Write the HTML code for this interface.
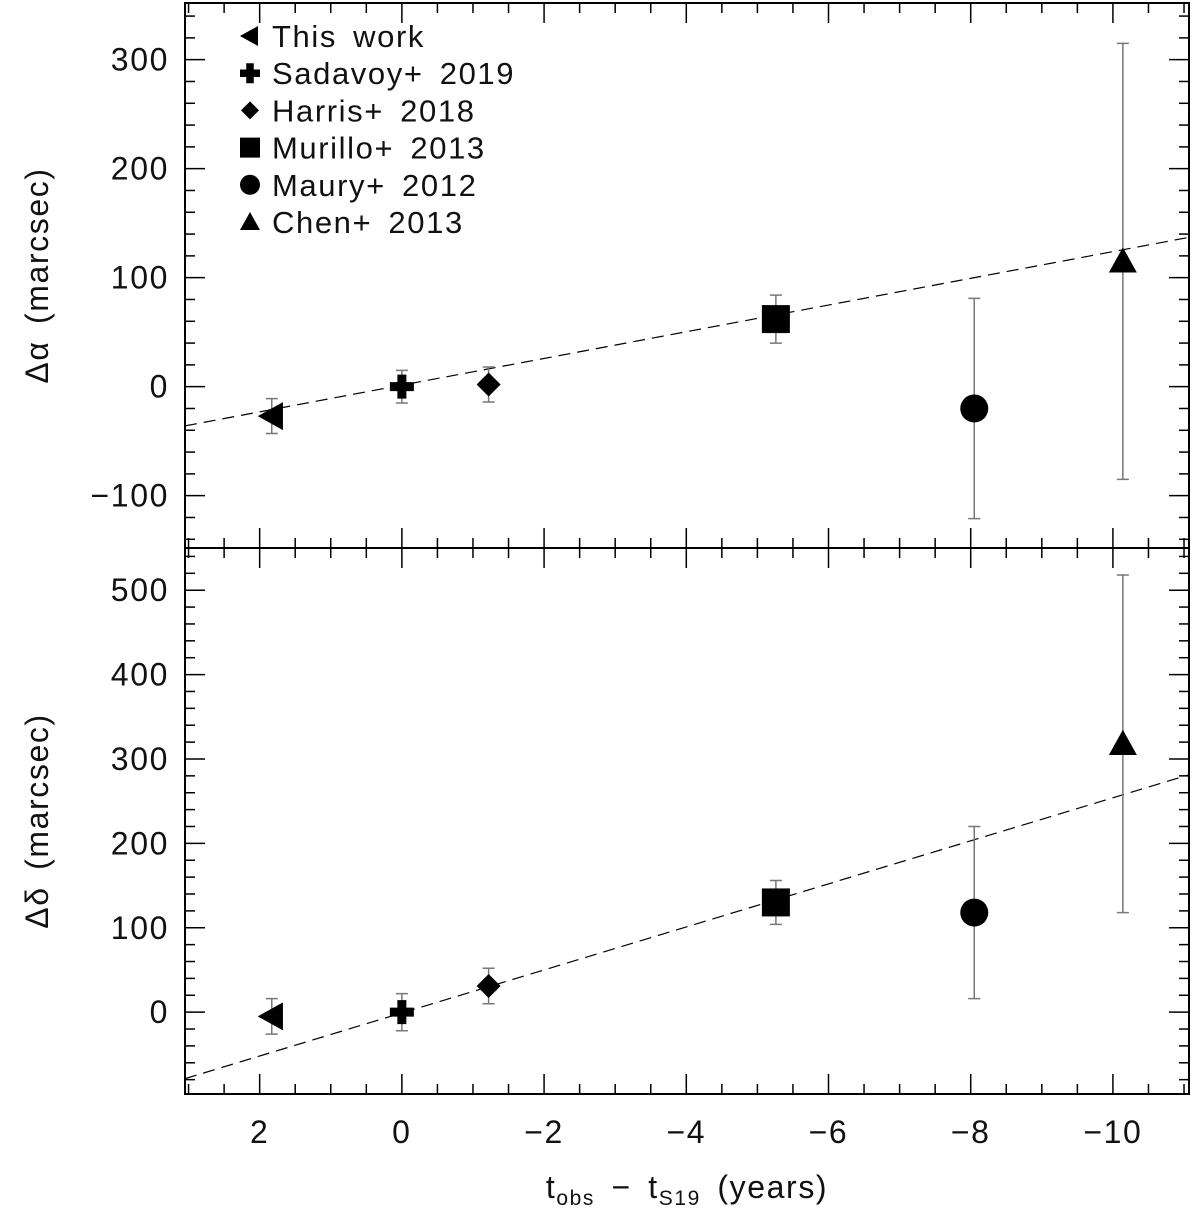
<!DOCTYPE html>
<html><head><meta charset="utf-8"><style>
body{margin:0;background:#fff}
svg{display:block;font-family:"Liberation Sans","DejaVu Sans",sans-serif}
text{letter-spacing:1.6px;word-spacing:6px}
</style></head><body>
<svg id="c" width="1200" height="1213" viewBox="0 0 1200 1213">
<g id="g"></g>
</svg>
<script>
const years=[1.83,0,-1.22,-5.26,-8.05,-10.14];
const names=["This work","Sadavoy+ 2019","Harris+ 2018","Murillo+ 2013","Maury+ 2012","Chen+ 2013"];
const markers=["tri-left","plus","diamond","square","circle","tri-up"];
const dAlpha=[-27,0,2,62,-20,115];
const dAlphaErr=[16,15,16,22,101,200];
const dDelta=[-5,0,31,130,118,318];
const dDeltaErr=[21,22,21,26,102,200];
const fitAlpha=[1.4,-12.25];   // intercept, slope
const fitDelta=[-1,-25.5];
const xTicks=[2,0,-2,-4,-6,-8,-10];
const yTicksA=[-100,0,100,200,300];
const yTicksD=[0,100,200,300,400,500];

const NS="http://www.w3.org/2000/svg";
const g=document.getElementById('g');
const L=185,R=1189;
const X0=3.05,X1=-11.07;
const sx=t=>L+(t-X0)/(X1-X0)*(R-L);
const panels=[
 {top:3,bot:548,ymin:-148,ymax:352,ticks:yTicksA,vals:dAlpha,err:dAlphaErr,fit:fitAlpha,name:"alpha"},
 {top:548,bot:1094,ymin:-97,ymax:550,ticks:yTicksD,vals:dDelta,err:dDeltaErr,fit:fitDelta,name:"delta"}
];
function el(tag,attrs,parent){const e=document.createElementNS(NS,tag);for(const k in attrs)e.setAttribute(k,attrs[k]);(parent||g).appendChild(e);return e;}
function marker(type,x,y,s,parent){
 let e;
 if(type==="tri-left")e=el('polygon',{points:`${x-s},${y} ${x+s*0.8},${y-s} ${x+s*0.8},${y+s}`,fill:'#000'},parent);
 else if(type==="plus")e=el('path',{d:`M${x-s},${y}H${x+s}M${x},${y-s}V${y+s}`,stroke:'#000','stroke-width':s*0.75,fill:'none'},parent);
 else if(type==="diamond")e=el('polygon',{points:`${x},${y-s} ${x+s},${y} ${x},${y+s} ${x-s},${y}`,fill:'#000'},parent);
 else if(type==="square")e=el('rect',{x:x-s,y:y-s,width:2*s,height:2*s,fill:'#000'},parent);
 else if(type==="circle")e=el('circle',{cx:x,cy:y,r:s,fill:'#000'},parent);
 else e=el('polygon',{points:`${x},${y-s} ${x+s},${y+s*0.8} ${x-s},${y+s*0.8}`,fill:'#000'},parent);
 return e;
}
panels.forEach((p,pi)=>{
 const sy=v=>p.bot-(v-p.ymin)/(p.ymax-p.ymin)*(p.bot-p.top);
 const pg=el('g',{});
 
 
 const cp=el('clipPath',{id:'cp'+pi},pg);
 el('rect',{x:L,y:p.top,width:R-L,height:p.bot-p.top},cp);
 for(let v=Math.ceil(p.ymin/20)*20;v<=p.ymax;v+=20){
  const major=v%100===0, len=major?20:10, y=sy(v);
  el('line',{x1:L,y1:y,x2:L+len,y2:y,stroke:'#000','stroke-width':1.5},pg);
  el('line',{x1:R,y1:y,x2:R-len,y2:y,stroke:'#000','stroke-width':1.5},pg);
 }
 p.ticks.forEach(v=>{
  const t=el('text',{x:L-16,y:sy(v)+11,'text-anchor':'end','font-size':32,fill:'#111'},pg);
  t.textContent=v<0?'\u2212'+Math.abs(v):String(v);
  
  
 });
 for(let k=Math.ceil(X1*2);k<=Math.floor(X0*2);k++){
  const t=k/2,major=k%4===0,len=major?20:10,x=sx(t);
  el('line',{x1:x,y1:p.bot,x2:x,y2:p.bot-len,stroke:'#000','stroke-width':1.5},pg);
  el('line',{x1:x,y1:p.top,x2:x,y2:p.top+len,stroke:'#000','stroke-width':1.5},pg);
 }
 const fl=el('line',{x1:sx(X0),y1:sy(p.fit[0]+p.fit[1]*X0),x2:sx(X1),y2:sy(p.fit[0]+p.fit[1]*X1),stroke:'#000','stroke-width':1.2,'stroke-dasharray':'12,7','clip-path':`url(#cp${pi})`},pg);
 
 
 years.forEach((t,i)=>{
  const x=sx(t),y=sy(p.vals[i]),y1=sy(p.vals[i]-p.err[i]),y2=sy(p.vals[i]+p.err[i]);
  const eb=el('path',{d:`M${x},${y1}V${y2}M${x-6},${y1}H${x+6}M${x-6},${y2}H${x+6}`,stroke:'#777','stroke-width':1.5,fill:'none'},pg);
  
  
  const s=(markers[i]==="diamond")?12:(markers[i]==="plus"?12:14);
  const m=marker(markers[i],x,y,s,pg);
  
  
 });
 el('rect',{x:L,y:p.top,width:R-L,height:p.bot-p.top,fill:'none',stroke:'#000','stroke-width':2},pg);
 const yt=el('text',{transform:`translate(48,${(p.top+p.bot)/2}) rotate(-90)`,'text-anchor':'middle','font-size':32,fill:'#111'},pg);
 yt.textContent=(pi===0?'\u0394\u03b1':'\u0394\u03b4')+'  (marcsec)';
 
 
});
xTicks.forEach(t=>{
 const e=el('text',{x:sx(t),y:1143,'text-anchor':'middle','font-size':32,fill:'#111'});
 e.textContent=t<0?'\u2212'+Math.abs(t):String(t);
 
 
});
const xt=el('text',{x:687,y:1198,'text-anchor':'middle','font-size':32,fill:'#111'});
xt.innerHTML='t<tspan font-size="21" dy="7">obs</tspan><tspan dy="-7"> \u2212 t</tspan><tspan font-size="21" dy="7">S19</tspan><tspan dy="-7"> (years)</tspan>';


const lg=el('g',{});


names.forEach((n,i)=>{
 const y=36+i*37.2;
 const s=(markers[i]==="diamond")?9:10;
 marker(markers[i],250,y,s,lg);
 const t=el('text',{x:272,y:y+11,'font-size':31,fill:'#111'},lg);
 t.textContent=n;
 
 
});
</script>
</body></html>
